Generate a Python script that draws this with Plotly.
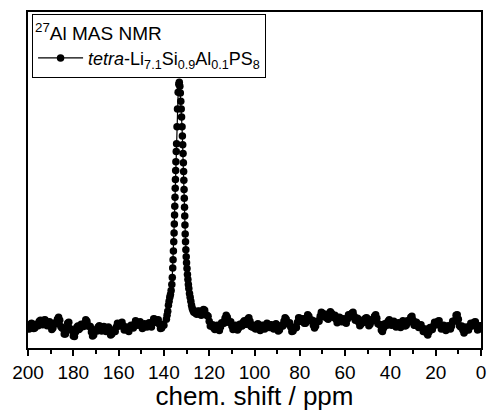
import plotly.graph_objects as go

# 27Al MAS NMR spectrum, intensity in arbitrary units (peak ~ 100)
shift_low_field = [200, 199, 198, 197, 196, 195, 194, 193, 192, 191,
                   190, 189, 188, 187, 186, 185, 184, 183, 182, 181,
                   180, 179, 178, 177, 176, 175, 174, 173, 172, 171,
                   170, 169, 168, 167, 166, 165, 164, 163, 162, 161,
                   160, 159, 158, 157, 156, 155, 154, 153, 152, 151,
                   150, 149, 148, 147, 146, 145, 144, 143, 142, 141, 140]
intensity_low_field = [0.4, 0.0, 1.2, -0.4, 0.8, 2.4, 1.2, 2.8, 1.2, 2.0,
                       0.4, -0.4, 1.6, 3.2, 2.8, -0.4, -2.8, -0.8, 2.0, -1.2,
                       -3.6, -2.0, 0.4, -0.4, 0.8, 1.6, 2.4, 0.4, -2.0, -3.2,
                       -1.2, 0.0, -0.8, -0.4, -1.2, -0.4, -1.6, -2.8, -1.6, 0.0,
                       1.2, 1.6, 0.4, -0.8, -1.2, -0.4, 0.0, 1.2, 2.0, 1.6,
                       0.8, 0.0, 0.8, 1.2, 0.4, 1.6, 3.2, 2.8, 1.2, -0.4, 0.8]

shift_low_field_half = [199.5, 198.5, 197.5, 196.5, 195.5, 194.5, 193.5, 192.5, 191.5, 190.5,
                        189.5, 188.5, 187.5, 186.5, 185.5, 184.5, 183.5, 182.5, 181.5, 180.5,
                        179.5, 178.5, 177.5, 176.5, 175.5, 174.5, 173.5, 172.5, 171.5, 170.5,
                        169.5, 168.5, 167.5, 166.5, 165.5, 164.5, 163.5, 162.5, 161.5, 160.5,
                        159.5, 158.5, 157.5, 156.5, 155.5, 154.5, 153.5, 152.5, 151.5, 150.5,
                        149.5, 148.5, 147.5, 146.5, 145.5, 144.5, 143.5, 142.5, 141.5, 140.5]
intensity_low_field_half = [-0.8, 1.6, -0.6, 1.2, 0.6, 2.8, 1.0, 3.0, 0.6, 2.2,
                            -1.0, 1.6, 1.4, 4.0, 0.2, -0.6, -2.8, 1.6, -0.6, -1.4,
                            -3.8, -0.2, -1.0, 1.2, 0.2, 3.0, 0.4, 0.2, -3.6, -1.2,
                            -1.6, 0.6, -1.6, 0.2, -1.8, 0.0, -3.2, -1.2, -1.8, 1.6,
                            0.4, 2.0, -1.2, 0.0, -1.8, 0.8, -0.4, 2.6, 0.8, 2.2,
                            -0.6, 1.4, 0.0, 1.8, 0.0, 3.4, 2.0, 3.0, -0.6, 1.2]

shift_peak = [138.9, 138.6, 138.3, 138.0, 137.7, 137.4, 137.1, 136.8, 136.5, 136.3,
              136.1, 135.95, 135.8, 135.65, 135.5, 135.4, 135.3, 135.2, 135.1, 135.0,
              134.9, 134.8, 134.7, 134.55, 134.4, 134.2, 134.0, 133.7, 133.4, 133.2,
              132.95, 132.75, 132.55, 132.35, 132.2, 132.0, 131.85, 131.7, 131.55, 131.4,
              131.3, 131.2, 131.1, 131.0, 130.9, 130.8, 130.7, 130.6, 130.45, 130.3,
              130.15, 130.0, 129.8, 129.6, 129.4, 129.2, 129.0, 128.7, 128.4, 128.1,
              127.8, 127.5, 127.2]
intensity_peak = [3.2, 4.8, 6.5, 8.9, 10.5, 12.1, 13.3, 14.9, 17.3, 20.2,
                  24.0, 27.4, 31.0, 34.7, 38.3, 41.9, 45.6, 49.2, 52.8, 56.5,
                  60.1, 63.7, 67.3, 71.4, 74.6, 81.5, 88.7, 95.6, 98.8, 99.6,
                  98.0, 95.2, 91.9, 88.7, 85.5, 81.5, 77.8, 74.2, 70.6, 66.9,
                  63.3, 59.7, 56.0, 52.4, 48.8, 45.2, 41.5, 37.9, 34.7, 31.5,
                  28.6, 26.2, 23.8, 21.4, 19.4, 17.3, 15.7, 13.7, 12.1, 10.5,
                  8.9, 7.7, 6.9]

shift_high_field = [126.8, 126, 125, 124, 123, 122, 121, 120, 119, 118,
                    117, 116, 115, 114, 113, 112, 111, 110, 109, 108,
                    107, 106, 105, 104, 103, 102, 101, 100, 99, 98,
                    97, 96, 95, 94, 93, 92, 91, 90, 89, 88,
                    87, 86, 85, 84, 83, 82, 81, 80, 79, 78,
                    77, 76, 75, 74, 73, 72, 71, 70, 69, 68,
                    67, 66, 65, 64, 63, 62, 61, 60, 59, 58,
                    57, 56, 55, 54, 53, 52, 51, 50, 49, 48,
                    47, 46, 45, 44, 43, 42, 41, 40, 39, 38,
                    37, 36, 35, 34, 33, 32, 31, 30, 29, 28,
                    27, 26, 25, 24, 23, 22, 21, 20, 19, 18,
                    17, 16, 15, 14, 13, 12, 11, 10, 9, 8,
                    7, 6, 5, 4, 3, 2, 1, 0]
intensity_high_field = [6.0, 5.6, 6.5, 5.2, 6.0, 6.9, 4.8, 2.4, 0.4, -0.4,
                        0.4, -0.8, 0.0, 1.6, 3.6, 4.0, 2.0, 0.4, -0.4, 0.0,
                        -0.4, 0.8, 2.0, 1.2, 3.2, 2.4, 0.0, -0.4, 0.8, 0.0,
                        -0.8, 0.4, 0.0, 1.2, 0.4, -0.4, 0.8, 0.0, -1.2, 0.4,
                        2.4, 3.2, 1.6, 0.0, -1.6, -0.4, 2.0, 3.6, 3.2, 1.6,
                        3.6, 4.4, 2.8, 0.8, 0.4, 2.4, 4.4, 5.6, 4.8, 3.6,
                        4.8, 5.6, 4.4, 3.2, 2.4, 3.6, 2.8, 2.0, 3.2, 4.8,
                        5.6, 4.4, 3.2, 2.0, 1.2, 2.4, 3.6, 2.0, 1.2, 2.8,
                        4.4, 3.6, 1.2, -1.2, -0.4, 1.2, 2.4, 1.6, 2.0, 0.8,
                        1.2, 0.4, 1.2, 2.0, 0.8, 2.4, 4.0, 2.8, 0.8, 1.2,
                        0.4, -0.4, -1.2, -2.4, -2.0, -0.4, 0.4, 1.6, 2.4, 0.8,
                        -0.4, 0.0, -0.8, 0.0, 0.4, 2.4, 4.8, 3.2, 0.0, -1.2,
                        -1.6, -0.4, 0.0, 1.2, 2.0, 0.4, -0.8, 0.0]

shift_high_field_half = [126.4, 125.5, 124.5, 123.5, 122.5, 121.5, 120.5, 119.5, 118.5, 117.5,
                         116.5, 115.5, 114.5, 113.5, 112.5, 111.5, 110.5, 109.5, 108.5, 107.5,
                         106.5, 105.5, 104.5, 103.5, 102.5, 101.5, 100.5, 99.5, 98.5, 97.5,
                         96.5, 95.5, 94.5, 93.5, 92.5, 91.5, 90.5, 89.5, 88.5, 87.5,
                         86.5, 85.5, 84.5, 83.5, 82.5, 81.5, 80.5, 79.5, 78.5, 77.5,
                         76.5, 75.5, 74.5, 73.5, 72.5, 71.5, 70.5, 69.5, 68.5, 67.5,
                         66.5, 65.5, 64.5, 63.5, 62.5, 61.5, 60.5, 59.5, 58.5, 57.5,
                         56.5, 55.5, 54.5, 53.5, 52.5, 51.5, 50.5, 49.5, 48.5, 47.5,
                         46.5, 45.5, 44.5, 43.5, 42.5, 41.5, 40.5, 39.5, 38.5, 37.5,
                         36.5, 35.5, 34.5, 33.5, 32.5, 31.5, 30.5, 29.5, 28.5, 27.5,
                         26.5, 25.5, 24.5, 23.5, 22.5, 21.5, 20.5, 19.5, 18.5, 17.5,
                         16.5, 15.5, 14.5, 13.5, 12.5, 11.5, 10.5, 9.5, 8.5, 7.5,
                         6.5, 5.5, 4.5, 3.5, 2.5, 1.5, 0.5]
intensity_high_field_half = [6.6, 5.2, 6.6, 4.8, 7.2, 5.0, 4.4, 0.4, 1.0, -1.0,
                             0.8, -1.4, 1.8, 1.6, 4.8, 2.0, 2.2, -1.0, 0.8, -1.2,
                             1.2, 0.4, 2.6, 1.2, 3.8, 0.2, 0.8, -0.8, 1.4, -1.4,
                             0.8, -0.8, 1.6, -0.2, 1.0, -0.8, 1.4, -1.6, 0.6, 0.4,
                             3.8, 1.4, 1.8, -1.8, 0.0, -0.2, 3.8, 2.4, 3.4, 1.6,
                             5.0, 2.6, 2.8, -0.4, 2.4, 2.4, 6.0, 4.2, 5.2, 3.2,
                             6.2, 4.0, 4.8, 1.8, 4.0, 2.2, 3.4, 1.6, 5.0, 4.2,
                             6.0, 2.8, 3.6, 0.6, 2.8, 2.0, 3.8, 0.6, 3.0, 2.6,
                             5.0, 1.4, 1.0, -1.8, 1.4, 0.8, 3.0, 0.8, 2.4, 0.0,
                             1.8, -0.2, 2.6, 0.4, 2.6, 2.2, 4.4, 0.8, 2.0, -0.2,
                             1.0, -1.8, -0.8, -3.2, -0.2, -1.0, 2.0, 1.0, 2.6, -0.8,
                             0.8, -1.4, 0.6, -0.8, 2.4, 2.6, 5.0, 0.6, 0.4, -2.4,
                             0.0, -1.2, 1.6, 0.6, 2.2, -1.2, 0.6]

x_ticks = [200, 180, 160, 140, 120, 100, 80, 60, 40, 20, 0]

# merge all segments into one spectrum ordered from high to low shift
points = sorted(
    zip(shift_low_field + shift_low_field_half + shift_peak
        + shift_high_field + shift_high_field_half,
        intensity_low_field + intensity_low_field_half + intensity_peak
        + intensity_high_field + intensity_high_field_half),
    key=lambda p: -p[0],
)
chem_shift = [p[0] for p in points]
intensity = [p[1] for p in points]

fig = go.Figure()
fig.add_trace(go.Scatter(
    x=chem_shift,
    y=intensity,
    mode="lines+markers",
    name="<i>tetra</i>-Li<sub>7.1</sub>Si<sub>0.9</sub>Al<sub>0.1</sub>PS<sub>8</sub>",
    line=dict(color="black", width=1.2),
    marker=dict(color="black", size=7.5, symbol="circle"),
))

fig.update_layout(
    width=493,
    height=411,
    margin=dict(l=28, r=7, t=12, b=60),
    paper_bgcolor="white",
    plot_bgcolor="white",
    font=dict(family="Arial, Liberation Sans, sans-serif", color="black"),
    showlegend=True,
    legend=dict(
        x=0.009, y=0.994, xanchor="left", yanchor="top",
        bgcolor="rgba(255,255,255,0)",
        bordercolor="black", borderwidth=1,
        font=dict(size=18),
        itemwidth=45,
        title=dict(text="<sup>27</sup>Al MAS NMR", font=dict(size=19), side="top"),
        tracegroupgap=0,
    ),
    xaxis=dict(
        range=[200, 0],
        tickvals=x_ticks,
        ticks="outside", ticklen=6, tickwidth=1.5, tickcolor="black",
        minor=dict(dtick=10, ticks="outside", ticklen=4, tickwidth=1.5, tickcolor="black"),
        showline=True, linewidth=2, linecolor="black", mirror=True,
        showgrid=False, zeroline=False,
        tickfont=dict(size=19),
        title=dict(text="chem. shift / ppm", font=dict(size=26), standoff=3),
    ),
    yaxis=dict(
        range=[-8.5, 128.2],
        showticklabels=False, ticks="",
        showline=True, linewidth=2, linecolor="black", mirror=True,
        showgrid=False, zeroline=False,
    ),
)

fig.write_html("out.html")
